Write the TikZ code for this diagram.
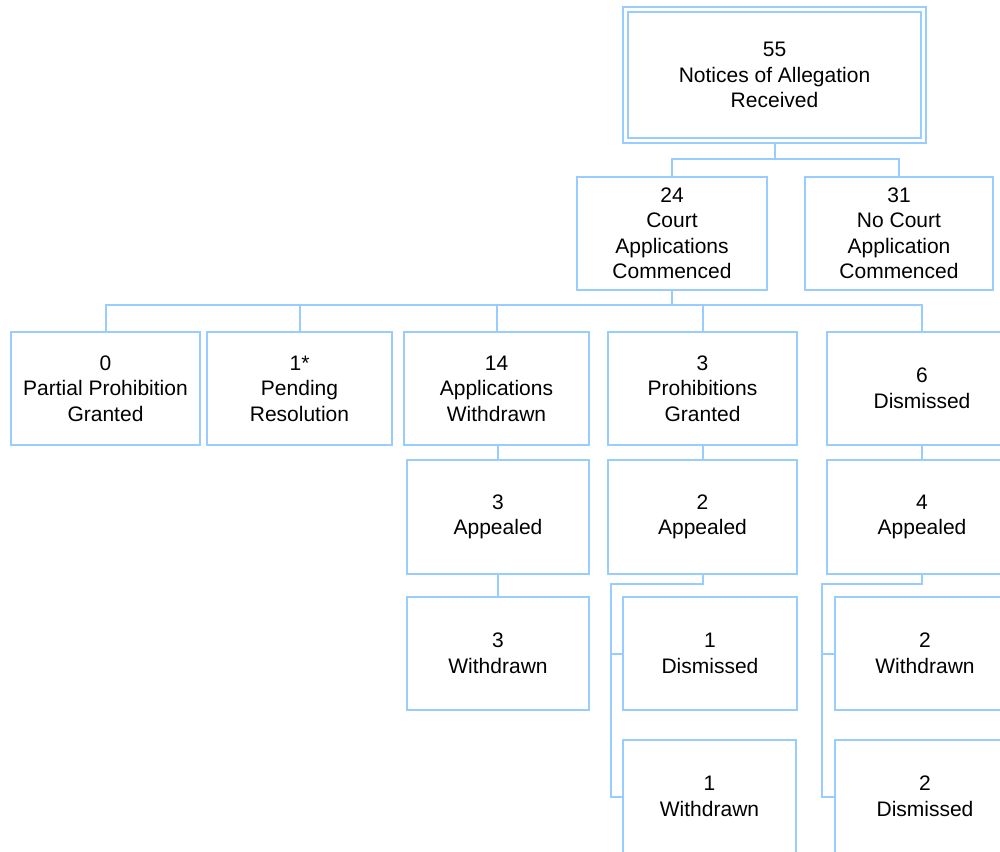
\documentclass[tikz,border=0pt]{standalone}
\usepackage{fontspec}
\setmainfont{Liberation Sans}
\definecolor{boxblue}{RGB}{153,204,255}
\tikzset{
  box/.style={draw=boxblue, line width=2pt, fill=white, inner sep=0pt, align=center,
    font=\fontsize{21pt}{25.5pt}\selectfont, text=black},
  conn/.style={draw=boxblue, line width=2pt}
}
\begin{document}
\begin{tikzpicture}[x=1pt,y=-1pt]
\useasboundingbox (0,0) rectangle (1000,851);
\clip (0,0) rectangle (1000,851);
% bus coordinates
\coordinate (bus1) at (0,159);
\coordinate (bus2) at (0,305);
\coordinate (s1) at (611,584);
\coordinate (s2) at (822,584);
% top
\node[box, double=white, double distance=3pt, outer sep=3.5pt, minimum width=298pt, minimum height=131pt] (top) at (774.5,75) {55\\Notices of Allegation\\Received};
% level 2
\node[box, minimum width=190pt, minimum height=113pt] (court) at (672,233.5) {24\\Court\\Applications\\Commenced};
\node[box, minimum width=188pt, minimum height=113pt] (nocourt) at (899,233.5) {31\\No Court\\Application\\Commenced};
% level 3
\node[box, minimum width=189pt, minimum height=113pt] (a) at (105.5,388.5) {0\\Partial Prohibition\\Granted};
\node[box, minimum width=185pt, minimum height=113pt] (b) at (299.5,388.5) {1*\\Pending\\Resolution};
\node[box, minimum width=185pt, minimum height=113pt] (c) at (496.5,388.5) {14\\Applications\\Withdrawn};
\node[box, minimum width=189pt, minimum height=113pt] (d) at (702.5,388.5) {3\\Prohibitions\\Granted};
\node[box, minimum width=190pt, minimum height=113pt] (e) at (922,388.5) {6\\Dismissed};
% level 4
\node[box, minimum width=182pt, minimum height=114pt] (ca) at (498,517) {3\\Appealed};
\node[box, minimum width=189pt, minimum height=114pt] (da) at (702.5,517) {2\\Appealed};
\node[box, minimum width=190pt, minimum height=114pt] (ea) at (922,517) {4\\Appealed};
% level 5
\node[box, minimum width=182pt, minimum height=113pt] (caw) at (498,653.5) {3\\Withdrawn};
\node[box, minimum width=174pt, minimum height=113pt] (dad) at (710,653.5) {1\\Dismissed};
\node[box, minimum width=180pt, minimum height=113pt] (eaw) at (925,653.5) {2\\Withdrawn};
% level 6
\node[box, minimum width=173pt, minimum height=113pt] (daw) at (709.5,796.5) {1\\Withdrawn};
\node[box, minimum width=180pt, minimum height=113pt] (ead) at (925,796.5) {2\\Dismissed};
% connectors
\draw[conn] (top.south) -- (top.south |- bus1);
\draw[conn] (court.north) |- (nocourt.north |- bus1) -- (nocourt.north);
\draw[conn] (court.south) -- (court.south |- bus2);
\draw[conn] (a.north) |- (e.north |- bus2) -- (e.north);
\draw[conn] (b.north) -- (b.north |- bus2);
\draw[conn] (c.north) -- (c.north |- bus2);
\draw[conn] (d.north) -- (d.north |- bus2);
\draw[conn] (ca.north) -- (ca.north |- c.south);
\draw[conn] (d.south) -- (da.north);
\draw[conn] (e.south) -- (ea.north);
\draw[conn] (caw.north) -- (caw.north |- ca.south);
\draw[conn] (da.south) |- (s1) |- (daw.west);
\draw[conn] (s1 |- dad.west) -- (dad.west);
\draw[conn] (ea.south) |- (s2) |- (ead.west);
\draw[conn] (s2 |- eaw.west) -- (eaw.west);
\end{tikzpicture}
\end{document}
